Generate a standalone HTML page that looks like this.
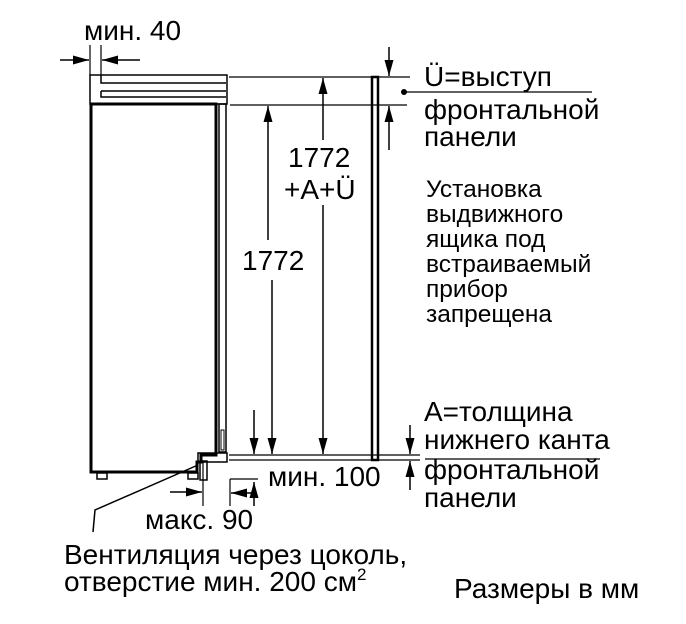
<!DOCTYPE html>
<html><head><meta charset="utf-8"><style>
body{margin:0;background:#fff;}
svg{display:block;}
text{font-family:"Liberation Sans",sans-serif;fill:#000;}
</style></head><body>
<svg width="686" height="624" viewBox="0 0 686 624" xmlns="http://www.w3.org/2000/svg">
<defs>
<marker id="b" viewBox="0 0 16 10" refX="16" refY="5" markerWidth="16" markerHeight="10" markerUnits="userSpaceOnUse" orient="auto"><path d="M0,0.5 L16,5 L0,9.5 z" fill="#000"/></marker>
</defs>
<g stroke="#000" fill="none">
<rect x="90" y="75" width="137" height="29" stroke-width="1.5"/>
<path d="M101,75 V83 H226 M101,91 H226 M101,91 V97 H226" stroke-width="1.5"/>
<path d="M91,104 V472 H197 V462 H201 V455 H216 V104 Z" stroke-width="3"/>
<rect x="219" y="104" width="7" height="348" stroke-width="1.5"/>
<rect x="221" y="430" width="3" height="20" stroke-width="1"/>
<rect x="198" y="453" width="29" height="9" stroke-width="1.5"/>
<rect x="200" y="461" width="7" height="19" stroke-width="1.5"/>
<rect x="97" y="473" width="10" height="6" stroke-width="1.5"/>
<rect x="188" y="473" width="10" height="6" stroke-width="1.5"/>
<path d="M90,45 V75 M101,45 V75" stroke-width="1.2"/>
<line x1="60" y1="60" x2="89" y2="60" stroke-width="1.5" marker-end="url(#b)"/>
<line x1="140" y1="60" x2="102" y2="60" stroke-width="1.5" marker-end="url(#b)"/>
<path d="M229,77 H410 M230,105 H407 M229,455 H420 M229,460 H420" stroke-width="1.3"/>
<rect x="372" y="77" width="6" height="383" stroke-width="2.5"/>
<line x1="323" y1="140" x2="323" y2="78" stroke-width="1.5" marker-end="url(#b)"/>
<line x1="323" y1="205" x2="323" y2="454" stroke-width="1.5" marker-end="url(#b)"/>
<line x1="268" y1="240" x2="268" y2="106" stroke-width="1.5" marker-end="url(#b)"/>
<line x1="272" y1="280" x2="272" y2="454" stroke-width="1.5" marker-end="url(#b)"/>
<line x1="254" y1="410" x2="254" y2="454" stroke-width="1.5" marker-end="url(#b)"/>
<line x1="389" y1="47" x2="389" y2="76" stroke-width="1.5" marker-end="url(#b)"/>
<line x1="389" y1="150" x2="389" y2="106" stroke-width="1.5" marker-end="url(#b)"/>
<line x1="410" y1="425" x2="410" y2="454" stroke-width="1.5" marker-end="url(#b)"/>
<line x1="410" y1="490" x2="410" y2="461" stroke-width="1.5" marker-end="url(#b)"/>
<path d="M404,92 H592" stroke-width="1.3"/>
<path d="M425,459 H600" stroke-width="1.3"/>
<path d="M203,462 V506" stroke-width="1.2"/>
<line x1="170" y1="492" x2="202" y2="492" stroke-width="1.5" marker-end="url(#b)"/>
<path d="M230,479 H258 M230,479 V506" stroke-width="1.2"/>
<line x1="252" y1="493" x2="231" y2="493" stroke-width="1.5" marker-end="url(#b)"/>
<line x1="254" y1="506" x2="254" y2="482" stroke-width="1.5" marker-end="url(#b)"/>
<path d="M93,532 L95,510 L198,465" stroke-width="1.5"/>
</g>
<circle cx="404" cy="92" r="3" fill="#000"/>
<g font-size="28">
<text x="84" y="40">мин. 40</text>
<text x="424" y="86">Ü=выступ</text>
<text x="424" y="119">фронтальной</text>
<text x="424" y="146">панели</text>
<text x="288" y="167">1772</text>
<text x="284" y="199">+A+Ü</text>
<text x="242" y="270">1772</text>
<text x="424" y="421">A=толщина</text>
<text x="424" y="449">нижнего канта</text>
<text x="424" y="479">фронтальной</text>
<text x="424" y="507">панели</text>
<text x="268" y="486">мин. 100</text>
<text x="145" y="529">макс. 90</text>
<text x="64" y="564">Вентиляция через цоколь,</text>
<text x="64" y="591">отверстие мин. 200 см<tspan font-size="17" dy="-11">2</tspan></text>
<text x="454" y="598">Размеры в мм</text>
</g>
<g font-size="24.5">
<text x="426" y="197">Установка</text>
<text x="426" y="222">выдвижного</text>
<text x="426" y="247">ящика под</text>
<text x="426" y="272">встраиваемый</text>
<text x="426" y="297">прибор</text>
<text x="426" y="322">запрещена</text>
</g>
</svg>
</body></html>
